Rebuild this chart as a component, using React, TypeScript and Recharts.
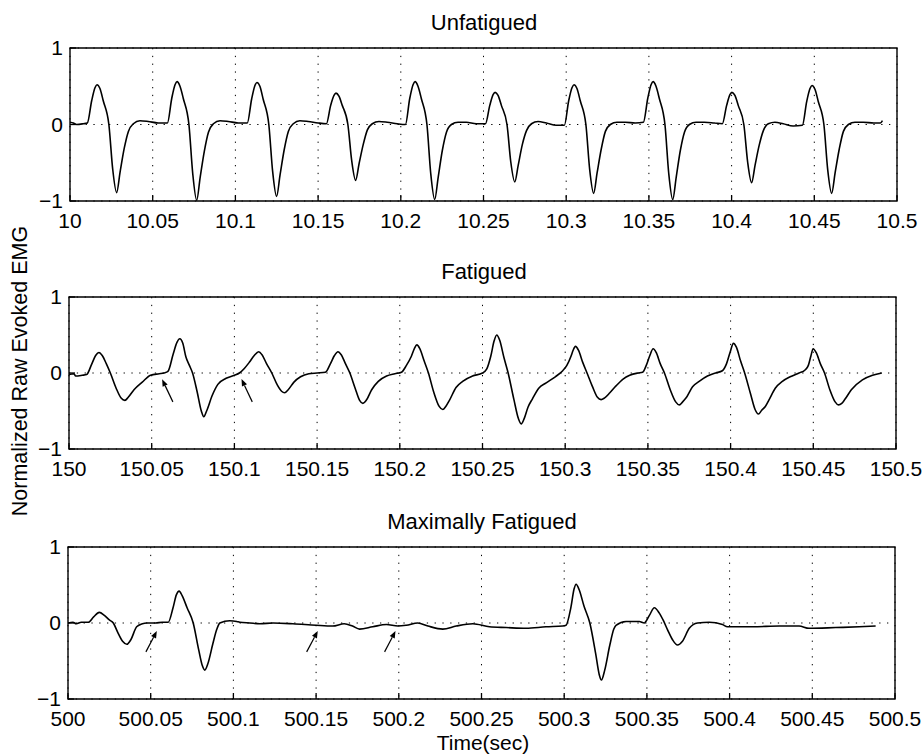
import React from 'react';
import { LineChart, Line, XAxis, YAxis, CartesianGrid, ReferenceArea, ReferenceLine } from 'recharts';

const FONT = '"Liberation Sans", Arial, Helvetica, sans-serif';

const unfatiguedTicks = [10, 10.05, 10.1, 10.15, 10.2, 10.25, 10.3, 10.35, 10.4, 10.45, 10.5];
const fatiguedTicks = [150, 150.05, 150.1, 150.15, 150.2, 150.25, 150.3, 150.35, 150.4, 150.45, 150.5];
const maxFatiguedTicks = [500, 500.05, 500.1, 500.15, 500.2, 500.25, 500.3, 500.35, 500.4, 500.45, 500.5];
const yTicks = [-1, 0, 1];

const titles = ['Unfatigued', 'Fatigued', 'Maximally Fatigued'];
const yLabel = 'Normalized Raw Evoked EMG';
const xLabel = 'Time(sec)';

const unfatigued: [number, number][] = [
  [10.0, 0.03], [10.002, 0.02], [10.004, 0.0], [10.008, 0.01],
  [10.0105, 0.02], [10.0131, 0.31], [10.0151, 0.48], [10.0163, 0.52], [10.0181, 0.47], [10.0201, 0.31], [10.0235, 0.0], [10.0258, -0.58], [10.0282, -0.89], [10.0303, -0.62], [10.0328, -0.31], [10.0353, -0.09], [10.0383, 0.01], [10.0423, 0.05], [10.0473, 0.04], [10.0533, 0.02],
  [10.0589, 0.02], [10.0615, 0.34], [10.0635, 0.52], [10.0647, 0.56], [10.0665, 0.5], [10.0685, 0.34], [10.0719, 0.0], [10.0742, -0.64], [10.0766, -0.99], [10.0787, -0.69], [10.0812, -0.35], [10.0837, -0.1], [10.0867, 0.01], [10.0907, 0.05], [10.0957, 0.04], [10.1017, 0.02],
  [10.1072, 0.02], [10.1098, 0.33], [10.1118, 0.51], [10.113, 0.55], [10.1148, 0.5], [10.1168, 0.33], [10.1202, 0.0], [10.1225, -0.61], [10.1249, -0.94], [10.127, -0.66], [10.1295, -0.33], [10.132, -0.09], [10.135, 0.01], [10.139, 0.05], [10.144, 0.04], [10.15, 0.02],
  [10.155, 0.01], [10.1576, 0.25], [10.1596, 0.38], [10.1608, 0.41], [10.1626, 0.37], [10.1646, 0.25], [10.168, 0.0], [10.1703, -0.47], [10.1727, -0.73], [10.1748, -0.51], [10.1773, -0.26], [10.1798, -0.07], [10.1828, 0.01], [10.1868, 0.04], [10.1918, 0.03], [10.1978, 0.01],
  [10.2028, 0.0], [10.2054, 0.34], [10.2074, 0.52], [10.2086, 0.56], [10.2104, 0.5], [10.2124, 0.34], [10.2158, 0.0], [10.2181, -0.64], [10.2205, -0.98], [10.2226, -0.69], [10.2251, -0.34], [10.2276, -0.1], [10.2306, 0.0], [10.2346, 0.03], [10.2396, 0.03], [10.2456, 0.01],
  [10.2512, 0.01], [10.2538, 0.25], [10.2558, 0.39], [10.257, 0.42], [10.2588, 0.38], [10.2608, 0.25], [10.2642, 0.0], [10.2665, -0.49], [10.2689, -0.75], [10.271, -0.53], [10.2735, -0.26], [10.276, -0.08], [10.279, 0.01], [10.283, 0.04], [10.288, 0.02], [10.294, -0.01],
  [10.2989, -0.01], [10.3015, 0.31], [10.3035, 0.48], [10.3047, 0.52], [10.3065, 0.47], [10.3085, 0.31], [10.3119, 0.0], [10.3142, -0.59], [10.3166, -0.9], [10.3187, -0.63], [10.3212, -0.32], [10.3237, -0.09], [10.3267, 0.0], [10.3307, 0.03], [10.3357, 0.03], [10.3417, 0.02],
  [10.3467, 0.03], [10.3493, 0.34], [10.3513, 0.52], [10.3525, 0.56], [10.3543, 0.5], [10.3563, 0.34], [10.3597, 0.0], [10.362, -0.64], [10.3644, -0.98], [10.3665, -0.69], [10.369, -0.34], [10.3715, -0.1], [10.3745, 0.0], [10.3785, 0.03], [10.3835, 0.03], [10.3895, 0.02],
  [10.3944, 0.01], [10.397, 0.25], [10.399, 0.39], [10.4002, 0.42], [10.402, 0.38], [10.404, 0.25], [10.4074, 0.0], [10.4097, -0.49], [10.4121, -0.76], [10.4142, -0.53], [10.4167, -0.27], [10.4192, -0.08], [10.4222, 0.01], [10.4262, 0.03], [10.4312, 0.01], [10.4372, -0.02],
  [10.4428, -0.01], [10.4454, 0.3], [10.4474, 0.47], [10.4486, 0.51], [10.4504, 0.46], [10.4524, 0.3], [10.4558, 0.0], [10.4581, -0.59], [10.4605, -0.9], [10.4626, -0.63], [10.4651, -0.32], [10.4676, -0.09], [10.4706, 0.0], [10.4746, 0.03], [10.4796, 0.03], [10.486, 0.02], [10.49, 0.02], [10.4912, 0.05],
];

const fatigued: [number, number][] = [
  [150.0, -0.02], [150.003, -0.01], [150.004, -0.04], [150.008, -0.03],
  [150.0107, -0.02], [150.0136, 0.11], [150.0161, 0.23], [150.0181, 0.27], [150.0201, 0.23], [150.0226, 0.12], [150.025, 0.0], [150.0285, -0.2], [150.0315, -0.33], [150.0338, -0.36], [150.0358, -0.32], [150.0393, -0.22], [150.0443, -0.12], [150.0493, -0.03], [150.0545, -0.01], [150.0575, 0.0],
  [150.0598, 0.02], [150.063, 0.25], [150.0652, 0.4], [150.067, 0.45], [150.0688, 0.39], [150.0707, 0.21], [150.0728, 0.1], [150.0747, 0.0], [150.0775, -0.25], [150.08, -0.5], [150.0815, -0.575], [150.0832, -0.5], [150.0865, -0.3], [150.09, -0.15], [150.095, -0.07], [150.1, -0.03], [150.103, 0.0],
  [150.106, 0.06], [150.109, 0.14], [150.112, 0.23], [150.1147, 0.28], [150.1167, 0.24], [150.1195, 0.12], [150.1226, 0.0], [150.126, -0.16], [150.1285, -0.24], [150.1304, -0.26], [150.1325, -0.22], [150.136, -0.12], [150.14, -0.05], [150.145, -0.01], [150.15, 0.0],
  [150.155, 0.01], [150.158, 0.12], [150.1605, 0.23], [150.1626, 0.28], [150.1646, 0.24], [150.1672, 0.12], [150.1698, 0.0], [150.173, -0.2], [150.1757, -0.36], [150.1777, -0.4], [150.1797, -0.36], [150.183, -0.22], [150.187, -0.11], [150.192, -0.04], [150.197, -0.01], [150.201, 0.01],
  [150.204, 0.1], [150.207, 0.22], [150.2088, 0.32], [150.2103, 0.37], [150.2121, 0.32], [150.2147, 0.16], [150.2173, 0.0], [150.2205, -0.25], [150.2238, -0.44], [150.226, -0.48], [150.2278, -0.44], [150.23, -0.36], [150.234, -0.19], [150.238, -0.11], [150.244, -0.04], [150.25, 0.0],
  [150.2525, 0.05], [150.255, 0.22], [150.257, 0.42], [150.2586, 0.5], [150.2604, 0.43], [150.263, 0.2], [150.2655, 0.0], [150.269, -0.35], [150.2717, -0.6], [150.2734, -0.67], [150.2752, -0.6], [150.2775, -0.45], [150.2802, -0.34], [150.284, -0.2], [150.2885, -0.13], [150.294, -0.05], [150.2985, 0.03],
  [150.301, 0.1], [150.3035, 0.22], [150.3048, 0.3], [150.3062, 0.35], [150.308, 0.3], [150.3106, 0.14], [150.3132, 0.0], [150.3165, -0.18], [150.3195, -0.32], [150.3217, -0.35], [150.3237, -0.33], [150.327, -0.26], [150.3307, -0.17], [150.335, -0.08], [150.339, -0.03], [150.344, 0.0], [150.3468, 0.01],
  [150.349, 0.1], [150.351, 0.22], [150.3532, 0.32], [150.355, 0.27], [150.3575, 0.12], [150.36, 0.0], [150.3635, -0.22], [150.3668, -0.38], [150.369, -0.42], [150.371, -0.38], [150.373, -0.33], [150.377, -0.18], [150.381, -0.11], [150.386, -0.04], [150.391, 0.0], [150.395, 0.03],
  [150.3975, 0.12], [150.3998, 0.28], [150.4017, 0.39], [150.4035, 0.34], [150.406, 0.16], [150.4085, 0.0], [150.412, -0.27], [150.4148, -0.48], [150.4168, -0.54], [150.4188, -0.49], [150.421, -0.44], [150.4233, -0.35], [150.427, -0.2], [150.4313, -0.11], [150.436, -0.05], [150.4414, 0.0], [150.445, 0.04],
  [150.447, 0.1], [150.4485, 0.22], [150.4499, 0.32], [150.4517, 0.27], [150.4543, 0.12], [150.4568, 0.0], [150.46, -0.22], [150.4632, -0.38], [150.4652, -0.42], [150.4672, -0.4], [150.469, -0.35], [150.473, -0.22], [150.4797, -0.09], [150.4858, -0.03], [150.4914, 0.0],
];

const maxFatigued: [number, number][] = [
  [500.0, 0.0], [500.003, 0.01], [500.005, -0.01], [500.008, 0.01], [500.0123, 0.01], [500.0155, 0.08], [500.0189, 0.14], [500.022, 0.1], [500.025, 0.04], [500.0274, 0.0], [500.03, -0.12], [500.033, -0.24], [500.0356, -0.28], [500.038, -0.22], [500.0415, -0.05], [500.045, -0.01], [500.0475, 0.0], [500.053, 0.0], [500.057, 0.01],
  [500.0606, 0.01], [500.0635, 0.2], [500.0655, 0.37], [500.0672, 0.42], [500.069, 0.36], [500.072, 0.2], [500.0757, 0.0], [500.079, -0.35], [500.0812, -0.56], [500.0827, -0.62], [500.0845, -0.54], [500.0875, -0.28], [500.09, -0.08], [500.0918, 0.0], [500.0978, 0.03], [500.102, 0.02], [500.1039, 0.01],
  [500.11, 0.0], [500.116, -0.01], [500.124, 0.0], [500.136, -0.01], [500.15, -0.03], [500.16, -0.04], [500.167, -0.01], [500.172, -0.04], [500.1763, -0.08], [500.1842, -0.05], [500.1925, -0.02], [500.1995, -0.04], [500.2045, -0.03], [500.2115, 0.0], [500.2176, -0.04], [500.2266, -0.08], [500.2347, -0.04], [500.2448, -0.01], [500.2548, -0.05], [500.2649, -0.06], [500.277, -0.07], [500.289, -0.05], [500.2991, -0.04],
  [500.3011, -0.03], [500.304, 0.2], [500.306, 0.45], [500.3072, 0.51], [500.309, 0.44], [500.312, 0.22], [500.3155, 0.0], [500.319, -0.4], [500.3212, -0.68], [500.3225, -0.75], [500.3245, -0.62], [500.3275, -0.3], [500.33, -0.08], [500.3313, -0.03], [500.3374, 0.02], [500.3454, 0.02], [500.3484, 0.0],
  [500.3515, 0.1], [500.3545, 0.2], [500.3575, 0.13], [500.36, 0.03], [500.3625, -0.09], [500.3655, -0.22], [500.3685, -0.29], [500.3715, -0.24], [500.3756, -0.07], [500.3806, 0.0], [500.3877, 0.01], [500.3957, -0.02], [500.3987, -0.05], [500.4138, -0.05], [500.43, -0.04], [500.442, -0.04], [500.448, -0.07], [500.4642, -0.06], [500.4783, -0.05], [500.4883, -0.04],
];

type Arrow = { from: [number, number]; to: [number, number] };
const fatiguedArrows: Arrow[] = [
  { from: [150.0628, -0.38], to: [150.0563, -0.083] },
  { from: [150.1108, -0.38], to: [150.1043, -0.08] },
];
const maxFatiguedArrows: Arrow[] = [
  { from: [500.0471, -0.38], to: [500.0537, -0.105] },
  { from: [500.1443, -0.38], to: [500.151, -0.105] },
  { from: [500.1914, -0.38], to: [500.198, -0.105] },
];

const fmtY = (v: number) => (v < 0 ? '\u2212' + Math.abs(v) : String(v));

const BottomTick = (p: any) => (
  <g>
    <line x1={p.x} y1={p.y} x2={p.x} y2={p.y - 6} stroke="#000" strokeWidth={1.3} />
    <text x={p.x} y={p.y + 26.5} textAnchor="middle" fontSize={21} fontFamily={FONT} fill="#000">
      {String(p.payload.value)}
    </text>
  </g>
);
const TopTick = (p: any) => <line x1={p.x} y1={p.y} x2={p.x} y2={p.y + 6} stroke="#000" strokeWidth={1.3} />;
const LeftTick = (p: any) => (
  <g>
    <line x1={p.x} y1={p.y} x2={p.x + 6} y2={p.y} stroke="#000" strokeWidth={1.3} />
    <text x={p.x - 7} y={p.y + 7} textAnchor="end" fontSize={21} fontFamily={FONT} fill="#000">
      {fmtY(p.payload.value)}
    </text>
  </g>
);
const RightTick = (p: any) => <line x1={p.x} y1={p.y} x2={p.x - 6} y2={p.y} stroke="#000" strokeWidth={1.3} />;

const ArrowShape = (p: any) => {
  const { x1, y1, x2, y2 } = p;
  if (![x1, y1, x2, y2].every((v) => typeof v === 'number' && isFinite(v))) return <g />;
  const dx = x2 - x1;
  const dy = y2 - y1;
  const len = Math.hypot(dx, dy) || 1;
  const ux = dx / len;
  const uy = dy / len;
  const hl = 7;
  const hw = 2.8;
  const bx = x2 - ux * hl;
  const by = y2 - uy * hl;
  const pts = `${x2},${y2} ${bx - uy * hw},${by + ux * hw} ${bx + uy * hw},${by - ux * hw}`;
  return (
    <g>
      <line x1={x1} y1={y1} x2={bx} y2={by} stroke="#000" strokeWidth={1.2} />
      <polygon points={pts} fill="#000" />
    </g>
  );
};

type PanelProps = {
  plotTop: number;
  plotH: number;
  left: number;
  right: number;
  data: [number, number][];
  ticks: number[];
  arrows: Arrow[];
};

function Panel({ plotTop, plotH, left, right, data, ticks, arrows }: PanelProps) {
  const mTop = 20;
  const axisH = 40;
  const chartH = mTop + plotH + axisH;
  const rows = data.map(([t, v]) => ({ t, v }));
  const domain: [number, number] = [ticks[0], ticks[ticks.length - 1]];
  return (
    <div style={{ position: 'absolute', left: 0, top: plotTop - mTop }}>
      <LineChart width={924} height={chartH} data={rows} margin={{ top: mTop, right: 924 - right, bottom: 0, left: 0 }}>
        <CartesianGrid stroke="#000" strokeDasharray="1.3 6.5" strokeWidth={1} />
        <XAxis dataKey="t" type="number" domain={domain} ticks={ticks} interval={0} height={axisH} tickSize={0} tickMargin={0} tickLine={false} axisLine={false} tick={<BottomTick />} allowDataOverflow />
        <XAxis xAxisId="top" orientation="top" dataKey="t" type="number" domain={domain} ticks={ticks} interval={0} height={0} tickSize={0} tickMargin={0} tickLine={false} axisLine={false} tick={<TopTick />} allowDataOverflow />
        <YAxis type="number" domain={[-1, 1]} ticks={yTicks} interval={0} width={left} tickSize={0} tickMargin={0} tickLine={false} axisLine={false} tick={<LeftTick />} allowDataOverflow />
        <YAxis yAxisId="right" orientation="right" type="number" domain={[-1, 1]} ticks={yTicks} interval={0} width={0} tickSize={0} tickMargin={0} tickLine={false} axisLine={false} tick={<RightTick />} allowDataOverflow />
        <Line dataKey="v" type="monotone" stroke="#000" strokeWidth={1.6} dot={false} activeDot={false} isAnimationActive={false} />
        <ReferenceArea x1={domain[0]} x2={domain[1]} y1={-1} y2={1} fill="none" fillOpacity={0} stroke="#000" strokeWidth={1.4} strokeOpacity={1} ifOverflow="visible" />
        {arrows.map((a, i) => (
          <ReferenceLine
            key={i}
            segment={[{ x: a.from[0], y: a.from[1] }, { x: a.to[0], y: a.to[1] }]}
            stroke="#000"
            ifOverflow="visible"
            shape={ArrowShape}
          />
        ))}
      </LineChart>
    </div>
  );
}

const textStyle = (x: number, y: number, size: number, rotate = 0): React.CSSProperties => ({
  position: 'absolute',
  left: x,
  top: y,
  transform: `translate(-50%, -50%) rotate(${rotate}deg)`,
  fontFamily: FONT,
  fontSize: size,
  lineHeight: 1,
  whiteSpace: 'nowrap',
  color: '#000',
});

export default function App() {
  return (
    <div style={{ position: 'absolute', left: 0, top: 0, width: 924, height: 754, background: '#fff', overflow: 'hidden' }}>
      <Panel plotTop={48} plotH={153} left={70} right={897} data={unfatigued} ticks={unfatiguedTicks} arrows={[]} />
      <Panel plotTop={297} plotH={152} left={69} right={896} data={fatigued} ticks={fatiguedTicks} arrows={fatiguedArrows} />
      <Panel plotTop={547} plotH={152} left={68} right={895} data={maxFatigued} ticks={maxFatiguedTicks} arrows={maxFatiguedArrows} />
      <div style={textStyle(484, 23, 22)}>{titles[0]}</div>
      <div style={textStyle(484, 272, 22)}>{titles[1]}</div>
      <div style={textStyle(482, 522, 22)}>{titles[2]}</div>
      <div style={textStyle(21, 371, 21.5, -90)}>{yLabel}</div>
      <div style={textStyle(483, 742, 21)}>{xLabel}</div>
    </div>
  );
}
